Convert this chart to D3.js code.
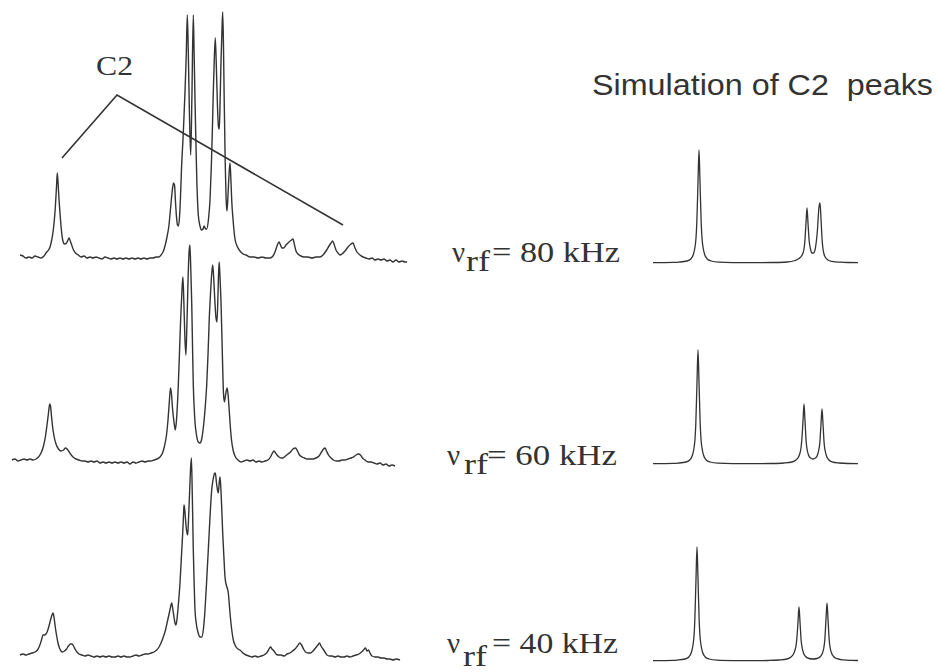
<!DOCTYPE html>
<html>
<head>
<meta charset="utf-8">
<script src="https://cdn.jsdelivr.net/npm/d3@7"></script>
<style>
  html, body { margin: 0; padding: 0; background: #ffffff; }
  svg { display: block; }
  text { white-space: pre; }
</style>
</head>
<body>
<div id="chart"></div>
<script>
// ---------- DATA (x in spectrum points, intensity above baseline) ----------
const spectrumLabels = ["80", "60", "40"];
const labelUnit = "kHz";
const annotationText = "C2";
const simTitle = "Simulation of C2  peaks";

// experimental spectra, [x, intensity]
const exp80 = [[20,2],[23,1],[26,-1],[29,0],[32,-1],[35,1],[38,0],[41,-1],[44,1],[46.7,5],[48.5,7],[50,10],[51.7,17],[53.3,27],[55,45],[56.5,70],[57.3,84],[58.2,72],[59,58],[60,44],[61.3,28],[62.7,17],[64.5,13],[66.5,14],[68,17],[69,19],[70.3,16],[71.7,12],[73.5,7],[75.5,4],[78.3,2],[81,0],[84,1],[87,-1],[90,0],[93,-1],[96,0],[99,-1],[102,-2],[105,0],[108,-1],[111,-2],[114,-1],[117,-2],[120,-1],[123,-2],[126,-1],[129,-2],[132,-1],[135,-2],[138,-1],[141,-2],[144,-1],[147,-2],[150,-1],[153,-1],[156,0],[159,0],[161,2],[163,5],[165,11],[167,20],[169,32],[170.5,48],[172,64],[173.5,74],[174.5,72],[175.5,55],[176.5,40],[177.5,32],[178.5,31],[179.5,40],[180.5,60],[181.5,88],[183.3,124],[185,165],[186.2,200],[187.3,242],[188.3,205],[189.4,145],[190.7,102],[191.9,160],[193.3,242],[194.1,205],[195,157],[196,110],[196.9,74],[198.3,42],[200,31],[201.5,27],[203,28],[204.2,31],[205.5,28],[206.7,28],[208.5,38],[210,57],[211.3,90],[212.3,124],[213.3,165],[214.2,195],[215.3,219],[216.5,185],[217.5,150],[218.5,130],[219.3,128],[220.2,160],[221,195],[222,228],[222.7,245],[223.5,210],[224.2,157],[225.2,95],[226.1,58],[227,46],[228,62],[229,82],[230,94],[230.8,80],[231.7,57],[233,38],[235,18],[237.5,10],[240,6],[243,3],[246,2],[250,0],[254,0],[258,-1],[262,0],[266,-1],[270,-1],[273,1],[275,5],[277,11],[279,15],[280.5,12],[282,9],[283.5,9],[286,12],[289,15],[291.5,17],[293,18],[294.5,12],[296,6],[298,3],[301,1],[304,0],[308,0],[312,-1],[316,0],[320,0],[323,2],[326,6],[329,11],[331,14],[332.5,16],[334,13],[336,7],[338,4],[340,2],[342,3],[345,6],[348,10],[351,13],[353,14],[355,9],[357,5],[360,2],[363,0],[366,-1],[369,-2],[372,-1],[375,-3],[378,-2],[381,-3],[384,-2],[387,-4],[390,-3],[393,-5],[396,-3],[399,-5],[402,-4],[405,-5],[407,-5]];

const exp60 = [[12,0],[15,1],[18,-1],[21,0],[24,1],[27,0],[30,1],[33,0],[36,1],[38.5,3],[41,7],[43.5,14],[45.5,24],[47,35],[48.5,47],[49.7,56],[50.5,54],[51.5,44],[52.5,34],[54,24],[56,16],[58.5,11],[61,9],[63.5,10],[65.5,12],[67,11],[68.5,9],[70.5,6],[73,3],[76,1],[79,0],[82,-1],[85,-1],[88,-2],[91,-1],[94,-2],[97,-1],[100,-3],[103,-2],[106,-3],[109,-2],[112,-3],[115,-2],[118,-3],[121,-2],[124,-3],[127,-2],[130,-4],[133,-2],[136,-3],[139,-2],[142,-1],[145,-2],[148,-1],[151,-1],[154,0],[157,1],[160,3],[162.5,7],[164.5,14],[166.5,25],[168,40],[169.3,58],[170.5,72],[171.5,66],[172.5,52],[174,38],[175.3,30],[176.5,40],[178.3,75],[179.5,108],[180.7,142],[182,170],[182.9,183],[183.8,160],[184.8,125],[185.9,105],[186.9,135],[188,178],[189,207],[189.9,215],[190.8,190],[191.7,158],[192.5,115],[193.3,75],[194.2,52],[195,38],[196.5,25],[198.3,18],[200,17],[201.7,21],[203.3,32],[205,50],[206.7,75],[208,105],[209.3,142],[210.6,168],[211.7,186],[212.7,195],[213.7,182],[214.8,160],[216,142],[217,138],[217.9,162],[218.5,185],[219.2,198],[220.1,180],[221,158],[222,120],[222.7,92],[223.5,66],[224.4,58],[225.7,66],[227.1,72],[228.2,64],[229.2,50],[230,38],[231.5,20],[233.3,9],[235.5,3],[238,0],[241,-2],[244,-1],[247,0],[250,-1],[253,0],[256,-2],[259,-1],[262,-2],[265,-1],[268,0],[270.5,3],[272.5,7],[274,9],[275.5,7],[277,5],[279,3],[281,2],[283,2],[285.5,4],[288,6],[290.5,8],[293,11],[295.5,12],[297.5,9],[299.5,5],[302,3],[304.5,2],[307,1],[310,1],[313,1],[316,2],[319,4],[321.5,8],[323.5,11],[325,12],[326.5,9],[328.5,5],[331,2],[333.5,0],[336,-1],[339,-1],[342,0],[345,0],[348,1],[351,2],[353.5,3],[356,5],[358.5,6],[360.5,5],[362.5,2],[365,0],[368,-2],[371,-2],[374,-3],[377,-4],[380,-3],[383,-5],[386,-4],[389,-6],[392,-5],[395,-6]];

const exp40 = [[20,0],[23,1],[26,0],[29,1],[32,2],[35,3],[37.5,5],[39.5,9],[41.5,15],[43,20],[44.5,20],[46,21],[47.5,24],[49,29],[50.5,35],[52,40],[53,42],[54,38],[55,30],[56.5,20],[58,12],[59.5,7],[61,4],[62.5,3],[64.5,4],[66.5,6],[68.5,9],[70.5,11],[72,11],[73.5,9],[75,6],[77,3],[79,1],[82,0],[85,-1],[88,0],[91,-1],[94,-2],[97,-1],[100,-2],[103,-1],[106,-2],[109,-1],[112,-2],[115,-2],[118,-1],[121,-2],[124,-1],[127,-2],[130,-2],[133,-1],[136,0],[139,-1],[142,0],[145,1],[148,1],[151,2],[154,3],[156.7,5],[159,8],[161,12],[163.3,18],[165.5,25],[167.5,34],[169.5,43],[171,50],[171.7,52],[172.8,46],[174,38],[175,32],[176,30],[177,36],[178.5,52],[180,72],[181.3,96],[182.7,122],[183.5,140],[184,150],[184.8,145],[185.8,132],[186.8,123],[187.7,120],[188.6,138],[189.5,160],[190.5,185],[191.4,197],[192.3,160],[193.3,105],[194.2,70],[195,45],[196.5,30],[198.2,22],[200,18],[201.7,18],[203.3,25],[205,45],[206.7,75],[208.3,105],[210,138],[211.7,165],[213.2,176],[214.3,181],[215.3,182],[216.5,172],[217.5,165],[218.3,162],[219.2,172],[220,178],[220.8,168],[221.8,145],[222.7,122],[223.9,98],[225,78],[226.3,70],[227.5,66],[228.3,62],[229.2,52],[230,42],[231.5,27],[233.3,15],[235.5,9],[238,6],[240,5],[243,2],[246,0],[249,-1],[252,-2],[255,-1],[258,-2],[261,-1],[264,0],[266.5,2],[268.5,5],[270.5,8],[272,6],[274,4],[276,1],[278,0],[281,0],[284,-1],[287,1],[290,2],[292.5,4],[295,6],[297.5,9],[299.8,12],[301.5,10],[303.5,6],[305.5,3],[308,2],[310.5,2],[313,4],[315.5,7],[318,10],[319.5,12],[321,9],[323,6],[325,3],[327,0],[329.5,-1],[332,-1],[335,-2],[338,-1],[341,-2],[344,-2],[347,-1],[350,-2],[353,-1],[356,0],[359,1],[361.5,3],[363.5,5],[365.5,7],[367,4],[368.5,5],[370,2],[372,-1],[375,-2],[378,-2],[381,-3],[384,-3],[387,-4],[390,-4],[393,-5],[396,-4],[400,-5]];

// simulated C2 spectra, [x, intensity]
const sim80 = [[0,0.3],[10,0.4],[20,0.6],[26,0.9],[34,2],[38,4.3],[40.5,9],[42,16],[43,25],[43.8,40],[45,81],[46,113],[47,81],[48.2,40],[49,25],[50,16],[51.5,9],[54,4.3],[58,2],[66,0.8],[80,0.4],[100,0.3],[120,0.5],[134,1],[142,2.5],[146,4.5],[148.5,7],[150,10],[151,14],[151.8,21],[153,40],[154,55],[155,40],[156.2,22],[157.5,14],[159,10],[160.5,10],[162,13],[163,19],[164.2,30],[166,56],[167,60],[168,44],[169.2,22],[170,14],[171,9],[172.5,5.5],[175,3],[179,1.6],[187,0.8],[195,0.5],[205,0.4]];
const sim60 = [[0,0.3],[10,0.4],[20,0.6],[25,0.9],[33,2],[37,4.3],[39.5,9],[41,16],[42,25],[42.8,40],[44,82],[45,114],[46,82],[47.2,40],[48,25],[49,16],[50.5,9],[53,4.3],[57,2],[65,0.8],[80,0.4],[100,0.3],[118,0.5],[131,1],[139,2],[143,4],[145.5,7],[147,11],[148,16],[148.8,24],[150,43],[151,60],[152,43],[153.2,22],[154.2,14],[155.5,9],[157.5,6],[160,5],[162.5,6],[164.5,9],[165.8,14],[166.8,21],[168,40],[169,55],[170,40],[171.2,20],[172.2,13],[173.5,8],[175.5,4.5],[179,2.2],[186,1],[195,0.5],[205,0.4]];
const sim40 = [[0,0.3],[10,0.4],[20,0.6],[24,0.9],[32,2],[36,4.3],[38.5,9],[40,16],[41,25],[41.8,40],[43,82],[44,114],[45,82],[46.2,40],[47,25],[48,16],[49.5,9],[52,4.3],[56,2],[64,0.8],[80,0.4],[100,0.3],[115,0.5],[126,1],[134,2],[138,4],[140.5,7],[142,11],[143,15],[143.8,22],[145,39],[146,54],[147,39],[148.2,20],[149.2,13],[150.5,8],[152.5,4.5],[156,2.5],[160,2],[164,2.5],[167.5,4.5],[169.5,8],[170.8,13],[171.8,21],[173,42],[174,58],[175,42],[176.2,21],[177.2,13],[178.5,8],[180.5,4.5],[184,2.3],[190,1.1],[198,0.6],[205,0.5]];

// C2 annotation (in coordinates of the top experimental spectrum): apex, left end, right end
const annotApex = [117, 162];
const annotLeft = [62, 99];
const annotRight = [343, 32];

// ---------- LAYOUT ----------
const W = 940, H = 672;
const ink = "#333333";
const baselines = [257, 460, 655];     // pixel baseline of each experimental trace
const simBaselines = [263, 464, 661];  // pixel baseline of each simulated trace
const labelBase = [262, 465, 653];
const labelNuX = [452, 447, 447];
const labelRfX = [466, 464, 463];
const labelRfDy = [9, 9, 13];
const labelEqX = [492, 487, 492];
const labelEqLen = [128, 130, 126];

const svg = d3.select("#chart").append("svg")
  .attr("width", W).attr("height", H)
  .style("background", "#ffffff");

const xExp = d3.scaleLinear().domain([0, 420]).range([0, 420]);
const xSim = d3.scaleLinear().domain([0, 205]).range([653, 858]);

const expData = [exp80, exp60, exp40];
const simData = [sim80, sim60, sim40];

expData.forEach((d, i) => {
  const y = d3.scaleLinear().domain([0, 250]).range([baselines[i], baselines[i] - 250]);
  const line = d3.line().x(p => xExp(p[0])).y(p => y(p[1])).curve(d3.curveMonotoneX);
  svg.append("path").datum(d)
    .attr("d", line)
    .attr("fill", "none")
    .attr("stroke", ink)
    .attr("stroke-width", 1.4)
    .attr("stroke-linejoin", "round");
});

simData.forEach((d, i) => {
  const y = d3.scaleLinear().domain([0, 120]).range([simBaselines[i], simBaselines[i] - 120]);
  const line = d3.line().x(p => xSim(p[0])).y(p => y(p[1])).curve(d3.curveMonotoneX);
  svg.append("path").datum(d)
    .attr("d", line)
    .attr("fill", "none")
    .attr("stroke", ink)
    .attr("stroke-width", 1.3)
    .attr("stroke-linejoin", "round");
});

// C2 annotation
{
  const y = d3.scaleLinear().domain([0, 250]).range([baselines[0], baselines[0] - 250]);
  const l = d3.line().x(p => xExp(p[0])).y(p => y(p[1]));
  svg.append("path").datum([annotLeft, annotApex, annotRight])
    .attr("d", l).attr("fill", "none").attr("stroke", ink).attr("stroke-width", 1.6);
  svg.append("text")
    .attr("x", 96).attr("y", 75)
    .attr("font-family", "'Liberation Serif', 'Times New Roman', serif")
    .attr("font-size", 28)
    .attr("fill", ink)
    .attr("textLength", 37).attr("lengthAdjust", "spacingAndGlyphs")
    .text(annotationText);
}

// title of the simulation column
svg.append("text")
  .attr("x", 592).attr("y", 95)
  .attr("font-family", "'Liberation Sans', Arial, sans-serif")
  .attr("font-size", 29)
  .attr("fill", ink)
  .attr("textLength", 341).attr("lengthAdjust", "spacingAndGlyphs")
  .text(simTitle);

// ν_rf labels
spectrumLabels.forEach((v, i) => {
  const g = svg.append("g")
    .attr("font-family", "'Liberation Serif', 'Times New Roman', serif")
    .attr("font-size", 29)
    .attr("fill", ink);
  g.append("text").attr("x", labelNuX[i]).attr("y", labelBase[i]).text("ν");
  g.append("text").attr("x", labelRfX[i]).attr("y", labelBase[i] + labelRfDy[i])
    .attr("textLength", 24).attr("lengthAdjust", "spacingAndGlyphs").text("rf");
  g.append("text").attr("x", labelEqX[i]).attr("y", labelBase[i])
    .attr("textLength", labelEqLen[i]).attr("lengthAdjust", "spacingAndGlyphs")
    .text("= " + v + " " + labelUnit);
});
</script>
</body>
</html>
